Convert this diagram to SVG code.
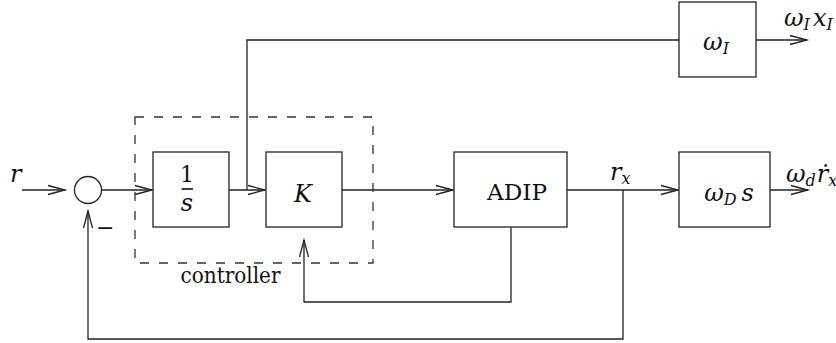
<svg xmlns="http://www.w3.org/2000/svg" width="836" height="343" viewBox="0 0 836 343">
<style>
.ln{fill:none;stroke:#222;stroke-width:1.3}
.box{fill:#fff;stroke:#222;stroke-width:1.3}
.dash{fill:none;stroke:#333;stroke-width:1.3;stroke-dasharray:9 10}
text{font-family:'DejaVu Serif','Liberation Serif',serif;font-size:22px;fill:#111}
.m{font-style:italic;font-size:24px}
.sub{font-size:16px}
</style>
<defs>
<marker id="ah" markerUnits="userSpaceOnUse" markerWidth="20" markerHeight="12" refX="17" refY="5" orient="auto" overflow="visible">
<path d="M0,0.5 L17,5 L0,9.5" fill="none" stroke="#222" stroke-width="1.3"/>
</marker>
</defs>
<rect width="836" height="343" fill="#fff"/>
<g id="connectors">
<line class="ln" x1="22" y1="190" x2="65" y2="190" marker-end="url(#ah)"/>
<line class="ln" x1="102" y1="190" x2="152" y2="190" marker-end="url(#ah)"/>
<line class="ln" x1="229" y1="190" x2="265" y2="190" marker-end="url(#ah)"/>
<polyline class="ln" points="247,190 247,40 679,40"/>
<line class="ln" x1="756" y1="40" x2="807" y2="40" marker-end="url(#ah)"/>
<line class="ln" x1="342" y1="190" x2="453" y2="190" marker-end="url(#ah)"/>
<line class="ln" x1="567" y1="190" x2="678" y2="190" marker-end="url(#ah)"/>
<line class="ln" x1="770" y1="190" x2="808" y2="190" marker-end="url(#ah)"/>
<polyline class="ln" points="511,227 511,302 304,302 304,240" marker-end="url(#ah)"/>
<polyline class="ln" points="623,190 623,339 88,339 88,211" marker-end="url(#ah)"/>
<text class="m" x="10" y="182">r</text>
<text class="m" x="610" y="180">r<tspan class="sub" dy="4">x</tspan></text>
<text class="m" x="784" y="26">ω<tspan class="sub" dy="4">I</tspan><tspan dy="-4" dx="3">x</tspan><tspan class="sub" dy="4">I</tspan></text>
<text class="m" x="786" y="182">ω<tspan class="sub" dy="4">d</tspan><tspan dy="-4" dx="1">ṙ</tspan><tspan class="sub" dy="4">x</tspan></text>
<text x="96" y="235">−</text>
</g>
<g id="controller">
<rect class="dash" x="135" y="117" width="238" height="146"/>
<text x="230.5" y="283" text-anchor="middle" textLength="100" lengthAdjust="spacingAndGlyphs">controller</text>
</g>
<g id="sum">
<circle class="ln" cx="88" cy="190" r="13.5"/>
</g>
<g id="integrator">
<rect class="box" x="153" y="152" width="76" height="75"/>
<text x="187" y="182" text-anchor="middle">1</text>
<line x1="181.5" y1="189" x2="193" y2="189" stroke="#111" stroke-width="1.6"/>
<text class="m" x="187" y="211" text-anchor="middle">s</text>
</g>
<g id="gainK">
<rect class="box" x="266" y="152" width="76" height="75"/>
<text class="m" x="303" y="202" text-anchor="middle">K</text>
</g>
<g id="adip">
<rect class="box" x="454" y="152" width="113" height="75"/>
<text x="517" y="200" text-anchor="middle" font-size="24" textLength="60" lengthAdjust="spacingAndGlyphs">ADIP</text>
</g>
<g id="omegaI">
<rect class="box" x="679" y="2" width="77" height="75"/>
<text class="m" x="716" y="50" text-anchor="middle">ω<tspan class="sub" dy="4">I</tspan></text>
</g>
<g id="omegaD">
<rect class="box" x="679" y="152" width="91" height="75"/>
<text class="m" x="729" y="201" text-anchor="middle">ω<tspan class="sub" dy="4">D</tspan><tspan dy="-4" dx="5">s</tspan></text>
</g>
</svg>
